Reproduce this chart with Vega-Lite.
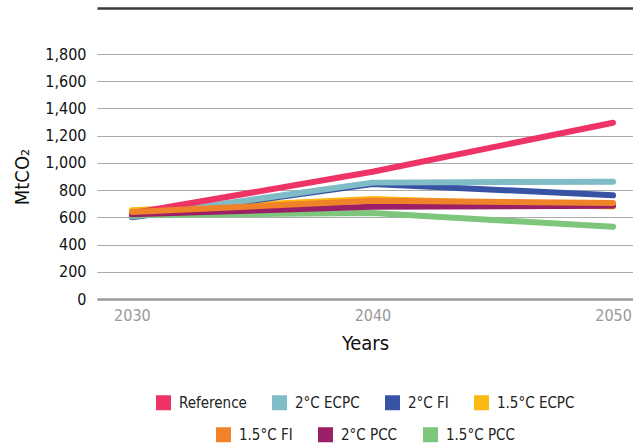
{
  "$schema": "https://vega.github.io/schema/vega-lite/v6.json",
  "autosize": "none",
  "width": 536,
  "height": 245,
  "padding": {"left": 97, "top": 54, "right": 0, "bottom": 144},
  "background": "white",
  "config": {
    "font": "DejaVu Sans Condensed, Roboto, sans-serif",
    "view": {"stroke": null},
    "legend": {
      "padding": 0,
      "layout": {"bottom": {"anchor": "middle", "direction": "vertical", "center": true, "margin": 0}}
    }
  },
  "datasets": {
    "a": [
      {"year": 2030, "series": "1.5°C ECPC", "value": 652},
      {"year": 2040, "series": "1.5°C ECPC", "value": 735},
      {"year": 2050, "series": "1.5°C ECPC", "value": 680},
      {"year": 2030, "series": "2°C FI", "value": 600},
      {"year": 2040, "series": "2°C FI", "value": 845},
      {"year": 2050, "series": "2°C FI", "value": 762},
      {"year": 2030, "series": "2°C ECPC", "value": 605},
      {"year": 2040, "series": "2°C ECPC", "value": 855},
      {"year": 2050, "series": "2°C ECPC", "value": 862},
      {"year": 2030, "series": "Reference", "value": 630},
      {"year": 2040, "series": "Reference", "value": 935},
      {"year": 2050, "series": "Reference", "value": 1295}
    ],
    "b": [
      {"year": 2030, "series": "1.5°C PCC", "value": 615},
      {"year": 2040, "series": "1.5°C PCC", "value": 632},
      {"year": 2050, "series": "1.5°C PCC", "value": 530},
      {"year": 2030, "series": "2°C PCC", "value": 622},
      {"year": 2040, "series": "2°C PCC", "value": 678},
      {"year": 2050, "series": "2°C PCC", "value": 685},
      {"year": 2030, "series": "1.5°C FI", "value": 640},
      {"year": 2040, "series": "1.5°C FI", "value": 722},
      {"year": 2050, "series": "1.5°C FI", "value": 705}
    ]
  },
  "layer": [
    {
      "data": {"name": "a"},
      "mark": {"type": "line", "strokeWidth": 6, "strokeCap": "round", "strokeJoin": "round"},
      "encoding": {
        "x": {
          "field": "year", "type": "quantitative",
          "scale": {"domain": [2028.55, 2050.83], "nice": false, "zero": false},
          "axis": {"values": [2030, 2040, 2050], "format": "d", "grid": false, "ticks": false, "domain": true, "domainColor": "#9a9a9a", "domainWidth": 2.5, "labelColor": "#999", "labelFontSize": 16, "labelPadding": 8, "labelFlush": false, "title": "Years", "titleFontSize": 20, "titleFontWeight": "normal", "titleColor": "#111", "titlePadding": 10}
        },
        "y": {
          "field": "value", "type": "quantitative",
          "scale": {"domain": [0, 1800], "nice": false},
          "axis": {"values": [0, 200, 400, 600, 800, 1000, 1200, 1400, 1600, 1800], "format": ",d", "grid": true, "gridColor": "#aaa", "gridWidth": 1.2, "domain": false, "ticks": false, "labelFontSize": 16, "labelColor": "#111", "labelPadding": 11, "title": "MtCO₂", "titleFontSize": 20, "titleFontWeight": "normal", "titleColor": "#111", "titlePadding": 12}
        },
        "color": {
          "field": "series", "type": "nominal",
          "scale": {"domain": ["Reference", "2°C ECPC", "2°C FI", "1.5°C ECPC"], "range": ["#EE3466", "#7FBCC6", "#3953A4", "#FDB913"]},
          "legend": {"orient": "bottom", "direction": "horizontal", "title": null, "symbolType": "square", "symbolSize": 16, "symbolStrokeWidth": 11, "symbolOpacity": 1, "labelFontSize": 15, "labelColor": "#222", "labelOffset": 8, "columnPadding": 8, "offset": 42}
        }
      }
    },
    {
      "data": {"name": "b"},
      "mark": {"type": "line", "strokeWidth": 6, "strokeCap": "round", "strokeJoin": "round"},
      "encoding": {
        "x": {
          "field": "year", "type": "quantitative",
          "scale": {"domain": [2028.55, 2050.83], "nice": false, "zero": false},
          "axis": {"orient": "top", "labels": false, "ticks": false, "grid": false, "title": null, "domain": true, "domainColor": "#3a3a3a", "domainWidth": 2.5, "offset": 46}
        },
        "y": {
          "field": "value", "type": "quantitative",
          "scale": {"domain": [0, 1800], "nice": false},
          "axis": {"values": [0, 200, 400, 600, 800, 1000, 1200, 1400, 1600, 1800], "format": ",d", "grid": true, "gridColor": "#aaa", "gridWidth": 1.2, "domain": false, "ticks": false, "labelFontSize": 16, "labelColor": "#111", "labelPadding": 11, "title": "MtCO₂", "titleFontSize": 20, "titleFontWeight": "normal", "titleColor": "#111", "titlePadding": 12}
        },
        "color": {
          "field": "series", "type": "nominal",
          "scale": {"domain": ["1.5°C FI", "2°C PCC", "1.5°C PCC"], "range": ["#F0822A", "#9B1F66", "#7DC67B"]},
          "legend": {"orient": "bottom", "direction": "horizontal", "title": null, "symbolType": "square", "symbolSize": 16, "symbolStrokeWidth": 11, "symbolOpacity": 1, "labelFontSize": 15, "labelColor": "#222", "labelOffset": 8, "columnPadding": 8, "offset": 30}
        }
      }
    }
  ],
  "resolve": {"scale": {"color": "independent"}, "axis": {"x": "independent"}, "legend": {"color": "independent"}}
}
